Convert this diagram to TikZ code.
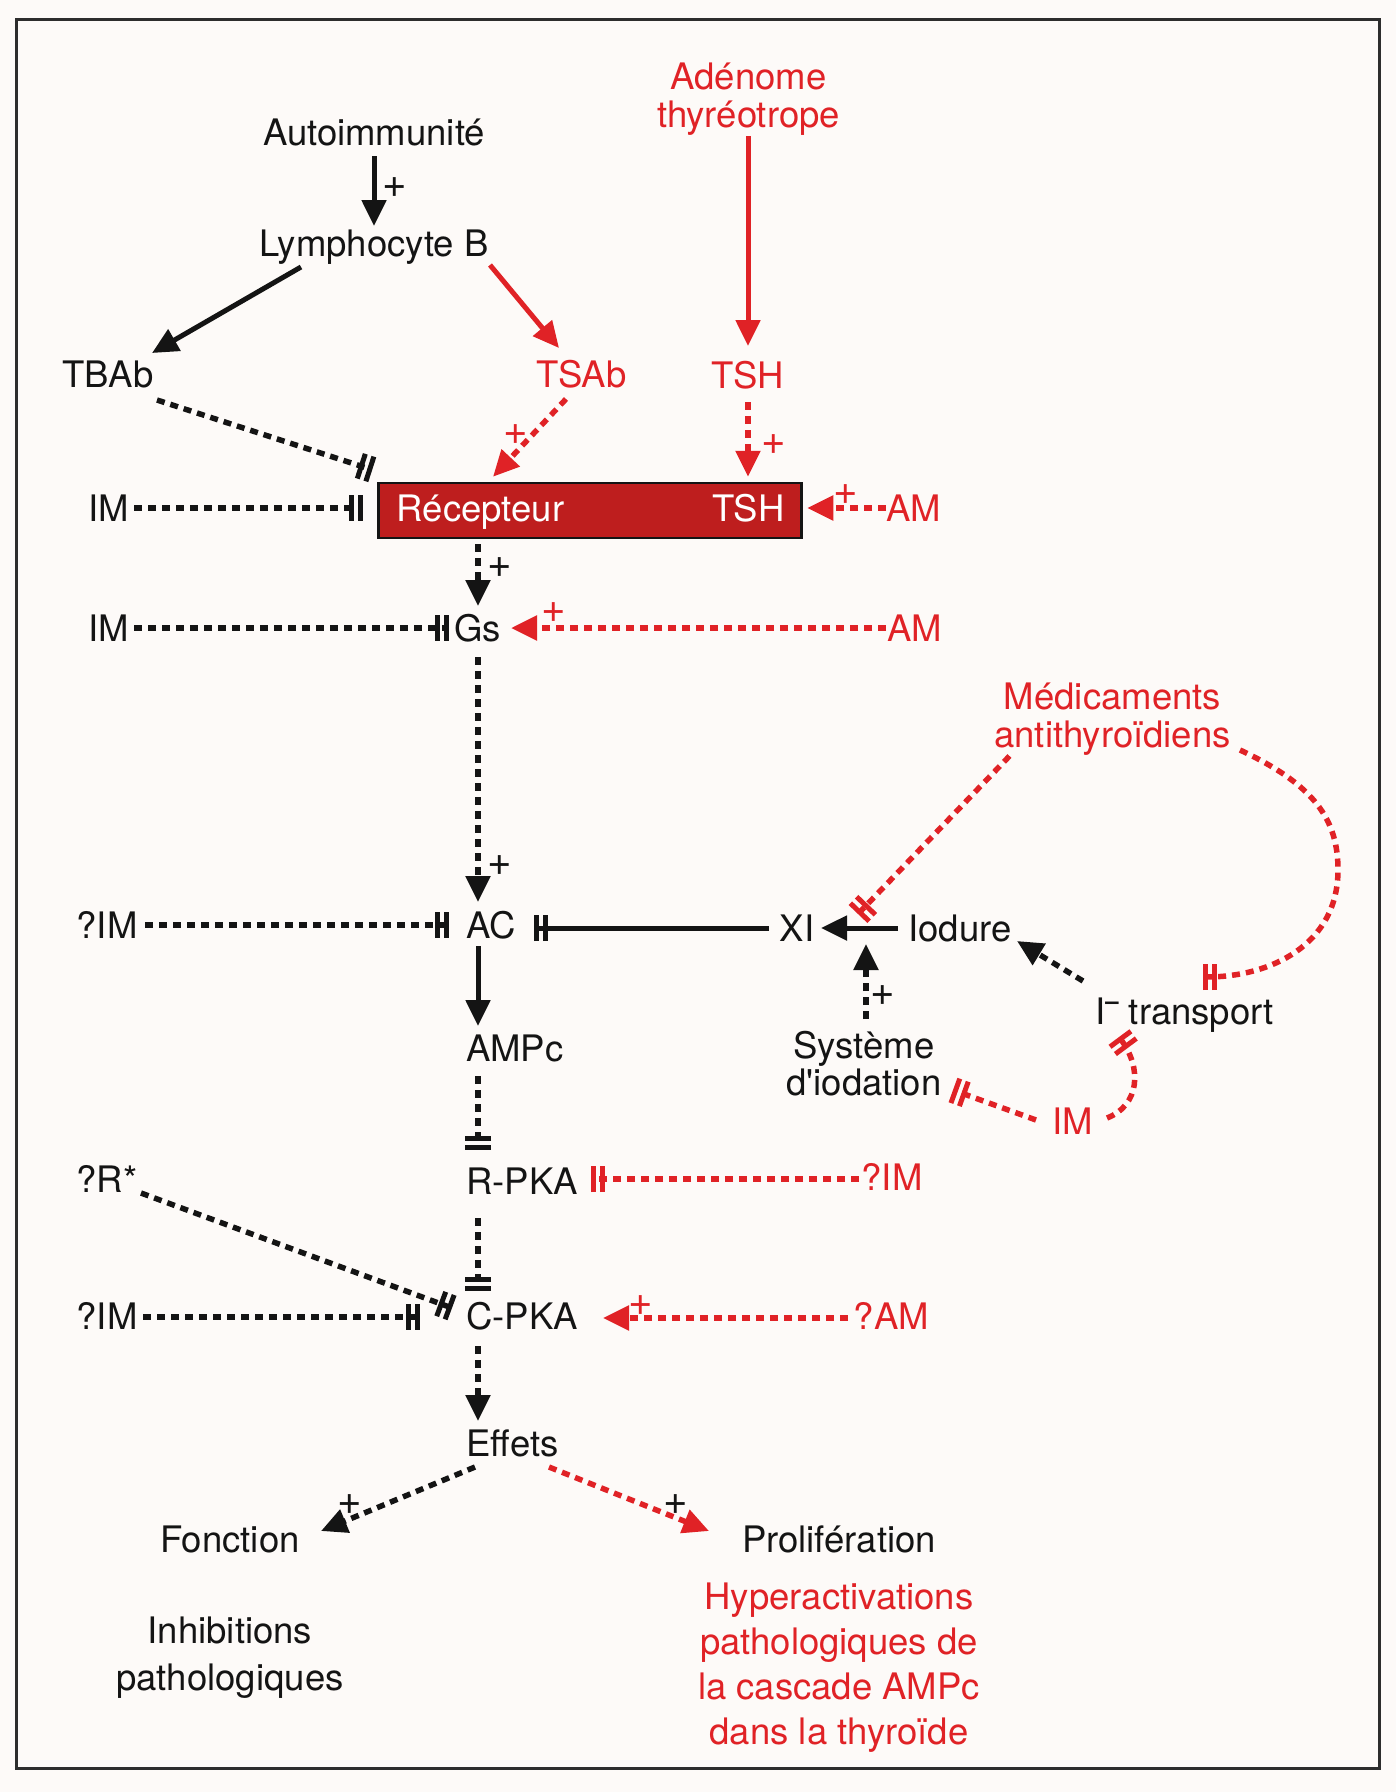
\documentclass[tikz,border=0pt]{standalone}
\usepackage{fontspec}
\setmainfont{TeX Gyre Heros}[Ligatures=TeXOff]
\usetikzlibrary{arrows.meta,calc}
\definecolor{rd}{RGB}{224,34,38}
\definecolor{boxred}{RGB}{190,30,30}
\definecolor{ink}{RGB}{20,20,20}
\definecolor{bg}{RGB}{253,250,248}
\newcommand{\mlines}[1]{\begin{tabular}{@{}c@{}}#1\end{tabular}}
\begin{document}
\begin{tikzpicture}[x=1pt,y=-1pt,
  lab/.style={font=\fontsize{36.5}{37}\selectfont, inner sep=2pt, text height=26pt, text depth=0pt, text=ink},
  mlab/.style={font=\fontsize{36.5}{#1}\selectfont, inner sep=0pt, text=ink},
  rl/.style={text=rd},
  pl/.style={font=\fontsize{42}{42}\selectfont, inner sep=0pt, text height=28pt, text depth=0pt, text=ink},
  solidl/.style={line width=5pt},
  dsh/.style={line width=5.5pt, dash pattern=on 8pt off 6pt},
  act/.style={-{Triangle[length=26pt,width=24pt]}},
  inh/.style={-{Bar[width=26pt,line width=5pt,sep=4pt]Bar[width=26pt,line width=5pt]}},
]
\useasboundingbox (0,0) rectangle (1396,1792);
\fill[bg] (0,0) rectangle (1396,1792);
\draw[line width=3pt, draw={rgb,255:red,45;green,45;blue,45}] (16,19) rectangle (1379,1768);

% nodes
\node[lab] (auto) at (374,132) {Autoimmunité};
\node[lab] (lymB) at (374,243) {Lymphocyte B};
\node[lab] (tbab) at (108,374) {TBAb};
\node[lab,rl] (tsab) at (581.5,374) {TSAb};
\node[mlab=37,rl] (aden) at (748.5,100.5) {\mlines{Adénome\\thyréotrope}};
\node[lab,rl] (tsh) at (748,375) {TSH};
\node[draw=ink, line width=2.5pt, fill=boxred, minimum width=423pt, minimum height=55pt, inner sep=0pt] (rec) at (590,510.5) {};
\node[lab,text=white] (recA) at (480.5,508) {Récepteur};
\node[lab,text=white] (recB) at (748.5,508) {TSH};
\node[lab] (im1) at (109,508) {IM};
\node[lab,rl] (am1) at (914,508) {AM};
\node[lab,anchor=west] (gs) at (452,628) {Gs};
\node[lab] (im2) at (109,628) {IM};
\node[lab,rl] (am2) at (914.5,628) {AM};
\node[lab,anchor=west] (ac) at (464,925) {AC};
\node[lab] (qim1) at (107,925) {?IM};
\node[lab] (xi) at (797,928) {XI};
\node[lab] (iod) at (960,928) {Iodure};
\node[mlab=37] (sys) at (864,1069) {\mlines{Système\\d'iodation}};
\node[lab] (itr) at (1184.5,1011) {I\raisebox{15pt}{\fontsize{24}{24}\selectfont\bfseries –} transport};
\node[mlab=35.5,rl] (med) at (1112.5,720.6) {\mlines{Médicaments\\antithyroïdiens}};
\node[lab,rl] (imr) at (1073,1121) {IM};
\node[lab,anchor=west] (ampc) at (464,1048.5) {AMPc};
\node[lab,anchor=west] (rpka) at (464,1181) {R-PKA};
\node[lab,rl] (qimr) at (892,1177) {?IM};
\node[lab] (qr) at (107,1179) {?R*};
\node[lab,anchor=west] (cpka) at (464,1316) {C-PKA};
\node[lab] (qim2) at (107,1316) {?IM};
\node[lab,rl] (qam) at (891.5,1316) {?AM};
\node[lab,anchor=west] (eff) at (464,1443) {Effets};
\node[lab] (fonc) at (230,1539) {Fonction};
\node[lab] (prol) at (839,1539) {Prolifération};
\node[mlab=47] (inh) at (230,1658) {\mlines{Inhibitions\\pathologiques}};
\node[mlab=45,rl] (hyp) at (839,1667.6) {\mlines{Hyperactivations\\pathologiques de\\la cascade AMPc\\dans la thyroïde}};

% connectors
\draw[solidl,act,ink] ($(auto)+(0,24)$) -- ($(lymB)+(0,-17)$);
\node[pl] (p1) at (395,183) {+};
\draw[solidl,act,ink] ($(lymB)+(-73,24)$) -- ($(tbab)+(44,-21)$);
\draw[solidl,act,rd] ($(lymB)+(116,22)$) -- ($(tsab)+(-22.5,-26)$);
\draw[solidl,act,rd] ($(aden)+(-0.5,35.5)$) -- ($(tsh)+(0,-29)$);

\draw[dsh,act,rd] ($(tsab)+(-15.5,25)$) -- ($(rec.north)+(-97,-5)$);
\node[pl,text=rd] (p2) at (515.6,430) {+};
\draw[dsh,act,rd] ($(tsh)+(0,27)$) -- ($(rec.north)+(158,-5)$);
\node[pl,text=rd] (p3) at (774,440) {+};
\draw[dsh,inh,ink] ($(tbab)+(49,26)$) -- ($(rec.north west)+(-5,-12)$);
\draw[dsh,inh,ink] ($(im1)+(25,0)$) -- ($(rec.west)+(-14.5,-2.5)$);
\draw[dsh,act,rd] ($(am1)+(-28,0)$) -- ($(rec.east)+(4.5,-2.5)$);
\node[pl,text=rd] (p4) at (846,490) {+};

\draw[dsh,act,ink] ($(rec.south)+(-112,5)$) -- ($(gs.west)+(26,-22)$);
\node[pl] (p5) at (500,563) {+};
\draw[dsh,inh,ink] ($(im2)+(25,0)$) -- ($(gs.west)+(-3,0)$);
\draw[dsh,act,rd] ($(am2)+(-28.5,0)$) -- ($(gs.east)+(8,0)$);
\node[pl,text=rd] (p6) at (554,608) {+};
\draw[dsh,act,ink] ($(gs.west)+(26,29)$) -- ($(ac.west)+(14,-23)$);
\node[pl] (p7) at (500,861) {+};
\draw[dsh,inh,ink] ($(qim1)+(38,0)$) -- ($(ac.west)+(-15,0)$);
\draw[solidl,inh,ink] ($(xi)+(-28,0)$) -- ($(ac.west)+(70,3)$);
\draw[solidl,act,ink] ($(iod)+(-62,0)$) -- ($(xi)+(24,0)$);
\coordinate (jx) at (866,944);
\draw[dsh,act,ink] ($(sys)+(2,-50)$) -- (jx);
\node[pl] (p8) at (883,991) {+};
\draw[dsh,act,ink] ($(itr)+(-101.5,-30)$) -- ($(iod)+(57,13)$);
\draw[dsh,inh,rd] ($(med)+(-103,35.4)$) -- ($(xi)+(61,-14)$);
\draw[dsh,inh,rd] ($(med)+(127.5,29.4)$) .. controls (1315,785) and (1338,820) .. (1338,870) .. controls (1338,945) and (1270,977) .. ($(itr)+(18.5,-34)$);
\draw[dsh,inh,rd] ($(imr)+(34,-3)$) .. controls (1140,1105) and (1142,1068) .. ($(itr)+(-65.5,26)$);
\draw[dsh,inh,rd] ($(imr)+(-37,-1)$) -- ($(sys)+(89,21)$);

\draw[solidl,act,ink] ($(ac.west)+(14,21)$) -- ($(ampc.west)+(14,-22.5)$);
\draw[dsh,inh,ink] ($(ampc.west)+(14,27.5)$) -- ($(rpka.west)+(14,-31)$);
\draw[dsh,inh,rd] ($(qimr)+(-33,2)$) -- ($(rpka.west)+(127,-2)$);
\draw[dsh,inh,ink] ($(rpka.west)+(14,37)$) -- ($(cpka.west)+(14,-25)$);
\draw[dsh,inh,ink] ($(qr)+(34,14)$) -- ($(cpka.west)+(-12,-8)$);
\draw[dsh,inh,ink] ($(qim2)+(36,1)$) -- ($(cpka.west)+(-44,1)$);
\draw[dsh,act,rd] ($(qam)+(-43.5,2)$) -- ($(cpka.west)+(139,2)$);
\node[pl,text=rd] (p9) at (641,1301) {+};
\draw[dsh,act,ink] ($(cpka.west)+(14,30)$) -- ($(eff.west)+(14,-22)$);
\draw[dsh,act,ink] ($(eff.west)+(11,24)$) -- ($(fonc)+(91,-8)$);
\node[pl] (p10) at (350,1500) {+};
\draw[dsh,act,rd] ($(eff.west)+(85,24)$) -- ($(prol)+(-130,-8)$);
\node[pl] (p11) at (676,1500) {+};
\end{tikzpicture}
\end{document}
